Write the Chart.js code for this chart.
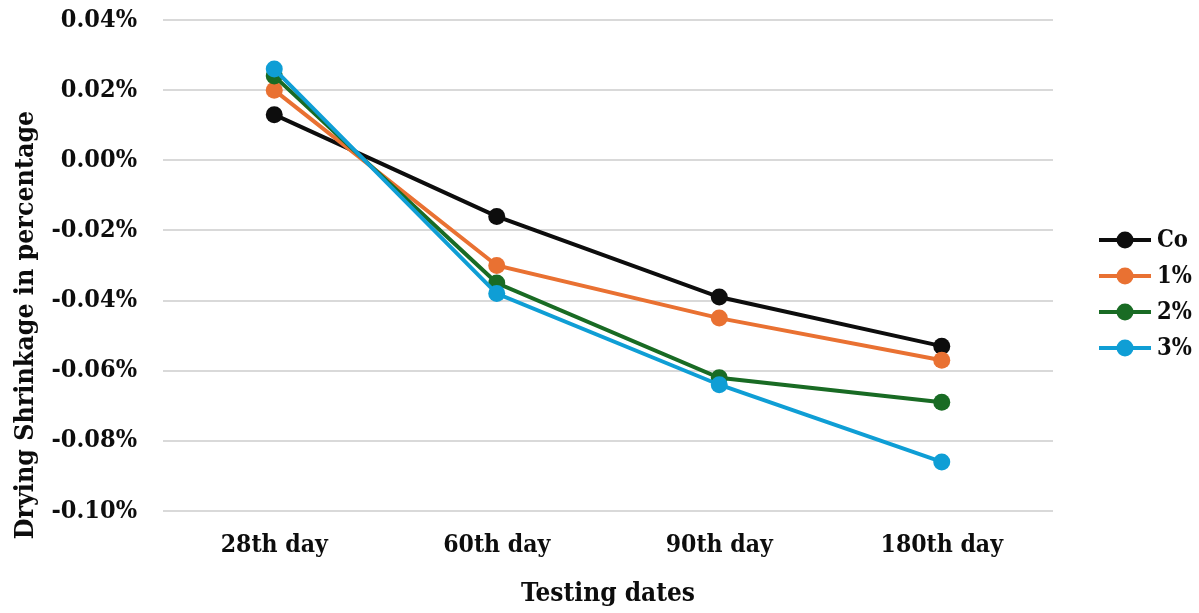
<!DOCTYPE html>
<html>
<head>
<meta charset="utf-8">
<title>Drying Shrinkage</title>
<script src="https://cdn.jsdelivr.net/npm/chart.js@4"></script>
<style>
  html, body { margin: 0; padding: 0; background: #fff; }
  #wrap { width: 1199px; height: 613px; }
</style>
</head>
<body>
<div id="wrap"><canvas id="shrinkage" width="1199" height="613"></canvas></div>
<script>
// testing dates on the x axis
const categories = ['28th day', '60th day', '90th day', '180th day'];

// drying shrinkage (%) for each mix
const seriesNames = ['Co', '1%', '2%', '3%'];
const coValues   = [0.013, -0.016, -0.039, -0.053];
const pct1Values = [0.020, -0.030, -0.045, -0.057];
const pct2Values = [0.024, -0.035, -0.062, -0.069];
const pct3Values = [0.026, -0.038, -0.064, -0.086];

// y axis tick values
const yTickValues = [-0.10, -0.08, -0.06, -0.04, -0.02, 0.00, 0.02, 0.04];

const xTitle = 'Testing dates';
const yTitle = 'Drying Shrinkage in percentage';

const seriesColors = ['#0d0d0d', '#e97132', '#196b24', '#0f9ed5'];
const allValues = [coValues, pct1Values, pct2Values, pct3Values];

const serif = "'DejaVu Serif Condensed', 'DejaVu Serif', serif";
const textColor = '#0d0d0d';

const datasets = seriesNames.map((name, i) => ({
  label: name,
  data: allValues[i],
  borderColor: seriesColors[i],
  backgroundColor: seriesColors[i],
  pointBackgroundColor: seriesColors[i],
  pointBorderColor: seriesColors[i],
  borderWidth: 4,
  pointRadius: 8.5,
  pointHoverRadius: 8.5,
  pointBorderWidth: 0,
  tension: 0,
  order: seriesNames.length - i   // later series sit on top
}));

// y title sits a little below the middle of the axis
const yAxisTitle = {
  id: 'yAxisTitle',
  afterDraw(chart) {
    const ctx = chart.ctx;
    ctx.save();
    ctx.fillStyle = textColor;
    ctx.textAlign = 'center';
    ctx.textBaseline = 'alphabetic';
    ctx.font = "bold 26.5px " + serif;
    ctx.translate(33, 325);
    ctx.rotate(-Math.PI / 2);
    ctx.fillText(yTitle, 0, 0);
    ctx.restore();
  }
};

// legend: short line with a marker, then the label
const sideLegend = {
  id: 'sideLegend',
  afterDraw(chart) {
    const ctx = chart.ctx;
    const x0 = 1099, y0 = 240, step = 36;
    ctx.save();
    chart.data.datasets.forEach((ds, i) => {
      const y = y0 + i * step;
      ctx.strokeStyle = ds.borderColor;
      ctx.lineWidth = 4;
      ctx.beginPath();
      ctx.moveTo(x0, y);
      ctx.lineTo(x0 + 52, y);
      ctx.stroke();
      ctx.fillStyle = ds.borderColor;
      ctx.beginPath();
      ctx.arc(x0 + 26, y, 8.5, 0, Math.PI * 2);
      ctx.fill();
      ctx.fillStyle = textColor;
      ctx.font = "bold 23.5px " + serif;
      ctx.textAlign = 'left';
      ctx.textBaseline = 'middle';
      ctx.fillText(ds.label, x0 + 58, y + 1);
    });
    ctx.restore();
  }
};

new Chart(document.getElementById('shrinkage').getContext('2d'), {
  type: 'line',
  data: { labels: categories, datasets: datasets },
  plugins: [yAxisTitle, sideLegend],
  options: {
    responsive: false,
    animation: false,
    layout: { padding: { top: 0, right: 146, left: 0, bottom: 0 } },
    plugins: {
      legend: { display: false },
      tooltip: { enabled: false }
    },
    scales: {
      x: {
        offset: true,
        grid: { display: false },
        border: { display: false },
        ticks: {
          color: textColor,
          padding: 12,
          maxRotation: 0,
          font: { family: serif, size: 24.5, weight: 'bold' }
        },
        title: {
          display: true,
          text: xTitle,
          color: textColor,
          padding: { top: 0, bottom: 3 },
          font: { family: serif, size: 26, weight: 'bold' }
        },
        afterFit(scale) { scale.height = 102; }
      },
      y: {
        min: -0.10,
        max: 0.04,
        afterBuildTicks(scale) {
          scale.ticks = yTickValues.map(v => ({ value: v }));
        },
        grid: { color: '#d9d9d9', lineWidth: 2, drawTicks: false },
        border: { display: false },
        ticks: {
          color: textColor,
          padding: 26,
          font: { family: serif, size: 25, weight: 'bold' },
          callback: v => v.toFixed(2) + '%'
        },
        afterFit(scale) {
          scale.width = 163;
          scale.paddingTop = 20;
          scale.paddingBottom = 0;
        }
      }
    }
  }
});
</script>
</body>
</html>
